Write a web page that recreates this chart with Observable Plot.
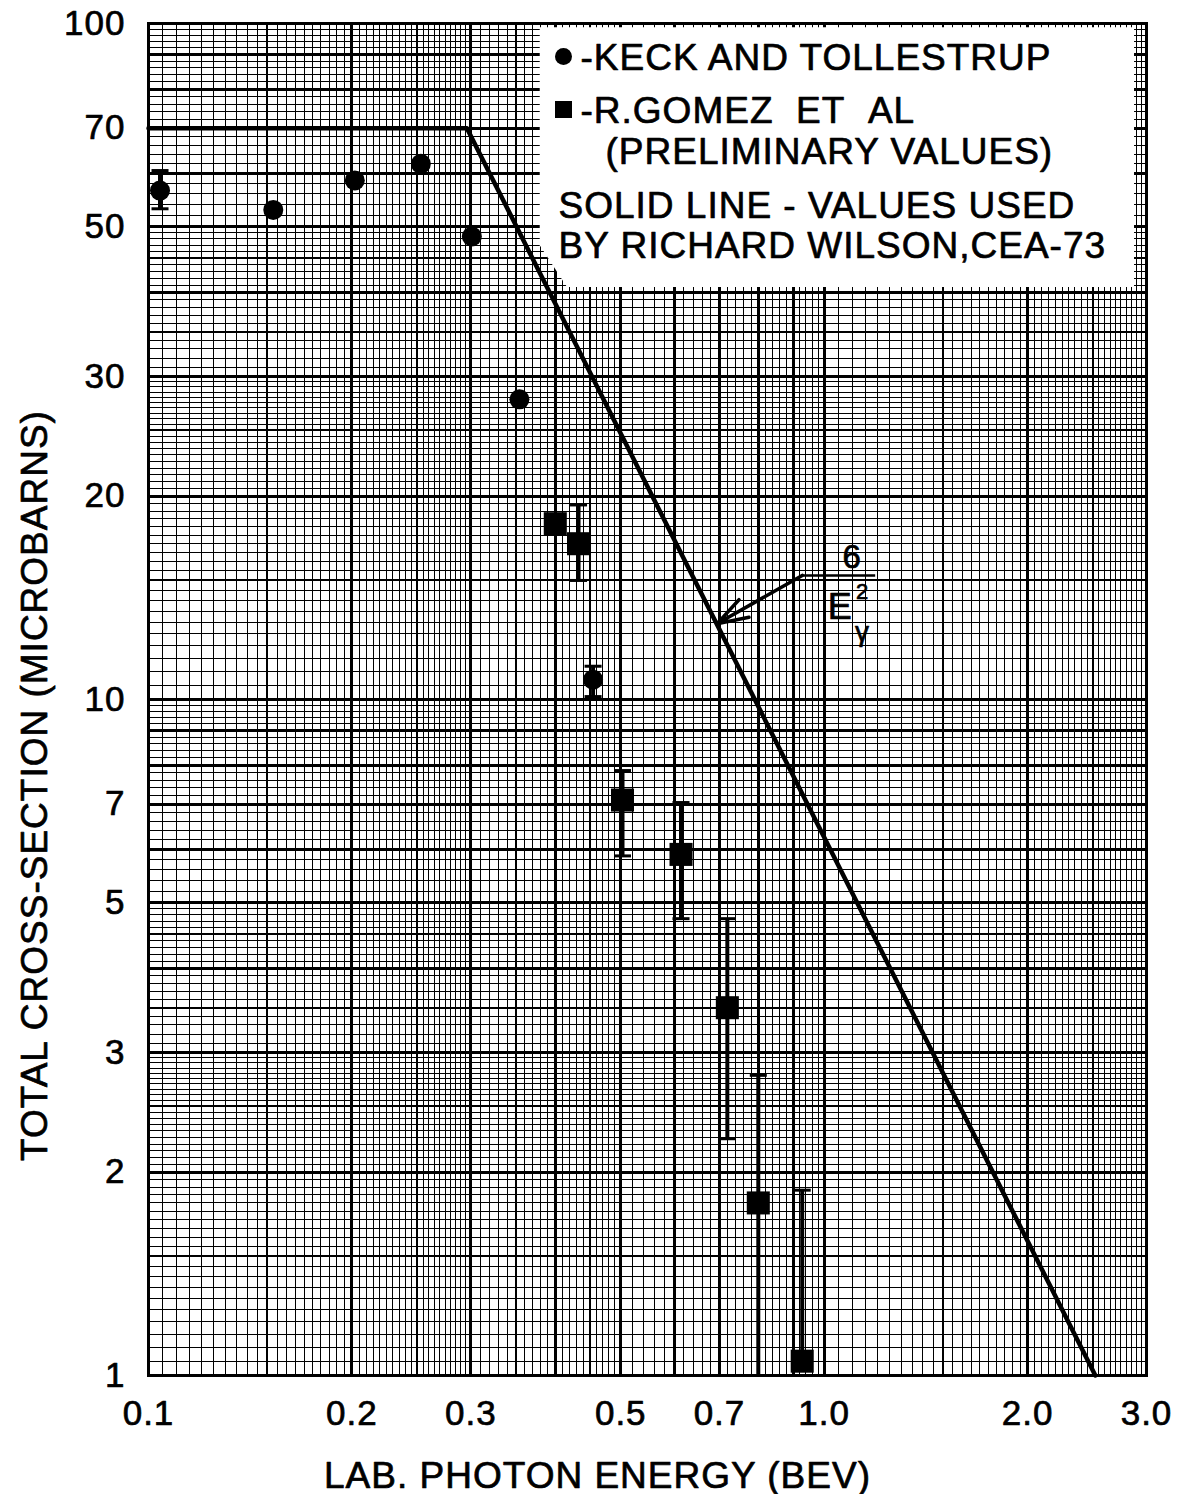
<!DOCTYPE html>
<html><head><meta charset="utf-8">
<script src="https://cdn.jsdelivr.net/npm/d3@7"></script>
<script src="https://cdn.jsdelivr.net/npm/@observablehq/plot@0.6"></script>
<style>
body{margin:0;background:#fff;}
#chart svg{display:block;}
#chart svg text{letter-spacing:1px;}
</style>
</head><body><div id="chart"></div>
<script>
// ---- Keck and Tollestrup (circles) ----
const keckE      = [0.104, 0.153, 0.202, 0.253, 0.301, 0.354, 0.455];
const keckSigma  = [56.6, 53.0, 58.6, 62.0, 48.4, 27.8, 10.7];
const keckLow    = [53.2, null, null, null, null, null, 10.1];
const keckHigh   = [60.6, null, null, null, null, null, 11.2];
// ---- R. Gomez et al (squares, preliminary) ----
const gomezE     = [0.400, 0.433, 0.503, 0.614, 0.719, 0.799, 0.928];
const gomezSigma = [18.2, 17.0, 7.1, 5.9, 3.5, 1.80, 1.05];
const gomezLow   = [null, 15.0, 5.87, 4.74, 2.24, 1.0, 1.05];
const gomezHigh  = [null, 19.4, 7.85, 7.04, 4.74, 2.78, 1.88];
// ---- Solid line (values used by R. Wilson, CEA-73) ----
const lineE      = [0.1, 0.296, 2.52];
const lineSigma  = [70, 70, 1];
// ---- axes ----
const xTicks      = [0.1, 0.2, 0.3, 0.5, 0.7, 1, 2, 3];
const xTickLabels = ["0.1", "0.2", "0.3", "0.5", "0.7", "1.0", "2.0", "3.0"];
const yTicks      = [1, 2, 3, 5, 7, 10, 20, 30, 50, 70, 100];
const yTickLabels = ["1", "2", "3", "5", "7", "10", "20", "30", "50", "70", "100"];
const xTitle = "LAB. PHOTON ENERGY (BEV)";
const yTitle = "TOTAL CROSS-SECTION (MICROBARNS)";
// ---- legend / annotation ----
const legendLines = [
  "-KECK AND TOLLESTRUP",
  "-R.GOMEZ\u00a0\u00a0ET\u00a0\u00a0AL",
  "(PRELIMINARY VALUES)",
  "SOLID LINE - VALUES USED",
  "BY RICHARD WILSON,CEA-73"
];
// white legend panel (data coords: energy, cross-section)
const boxE      = [0.380, 0.417, 2.88];
const boxBottom = [46.9, 40.7, 40.7];
const boxTop    = 98.6;
// annotation "6 / E_gamma^2" with arrow to the line
const arrowFrom = {E: 0.928, s: 15.26};
const arrowTo   = {E: 0.694, s: 12.94};
const barEnd    = 1.19;

// ---- graph-paper grid (log paper rulings) ----
const paperRulings = [[1, 3, 0.05], [3, 5, 0.1], [5, 10, 0.2]];
function paper(lo, hi) {
  const out = [];
  for (const dec of [0.1, 1, 10]) {
    for (const [a, b, st] of paperRulings) {
      const n = Math.round((b - a) / st);
      for (let i = 0; i < n; i++) {
        const k = +(a + i * st).toFixed(4);
        const v = +(dec * k).toPrecision(6);
        if (v < lo - 1e-9 || v > hi + 1e-9) continue;
        const w = Number.isInteger(k) ? 3 : Number.isInteger(k * 2) ? 2 : 1;
        out.push({v, w});
      }
    }
  }
  out.push({v: hi, w: 3});
  return out;
}
const xGrid = paper(0.1, 3);
const yGrid = paper(1, 100);

const keck = keckE.map((E, i) => ({E, s: keckSigma[i], lo: keckLow[i], hi: keckHigh[i]}));
const gomez = gomezE.map((E, i) => ({E, s: gomezSigma[i], lo: gomezLow[i], hi: gomezHigh[i]}));
const errs = [...keck, ...gomez].filter(d => d.lo != null);
const caps = errs.flatMap(d => [{E: d.E, s: d.lo}, {E: d.E, s: d.hi}]);
const solid = lineE.map((E, i) => ({E, s: lineSigma[i]}));
const box = boxE.map((E, i) => ({E, b: boxBottom[i]}));
const xLab = new Map(xTicks.map((t, i) => [t, xTickLabels[i]]));
const yLab = new Map(yTicks.map((t, i) => [t, yTickLabels[i]]));

const capSymbol = {draw(ctx, size) { const w = Math.sqrt(size) / 2; ctx.moveTo(-w, 0); ctx.lineTo(w, 0); }};
const FONT = "Liberation Sans, Arial, sans-serif";
const ink = {fill: "#000", stroke: "#000", strokeWidth: 0.7};

const chart = Plot.plot({
  width: 1194, height: 1494,
  marginLeft: 148, marginRight: 48, marginTop: 23, marginBottom: 119,
  style: {fontFamily: FONT, background: "#fff", color: "#000"},
  x: {type: "log", domain: [0.1, 3], axis: null},
  y: {type: "log", domain: [1, 100], axis: null},
  marks: [
    // graph paper
    Plot.ruleX(xGrid.filter(d => d.w === 1), {x: "v", stroke: "#000", strokeWidth: 1, shapeRendering: "crispEdges"}),
    Plot.ruleY(yGrid.filter(d => d.w === 1), {y: "v", stroke: "#000", strokeWidth: 1, shapeRendering: "crispEdges"}),
    Plot.ruleX(xGrid.filter(d => d.w > 1), {x: "v", stroke: "#000", strokeWidth: d => d.w, shapeRendering: "crispEdges"}),
    Plot.ruleY(yGrid.filter(d => d.w > 1), {y: "v", stroke: "#000", strokeWidth: d => d.w, shapeRendering: "crispEdges"}),
    // legend panel
    Plot.areaY(box, {x: "E", y1: "b", y2: boxTop, fill: "#fff", curve: "linear"}),
    Plot.frame({stroke: "#000", strokeWidth: 3}),
    // tick labels
    Plot.text(xTicks, {x: d => d, text: d => xLab.get(d), frameAnchor: "bottom", dy: 25, lineAnchor: "top", fontSize: 35, ...ink}),
    Plot.text(yTicks, {y: d => d, text: d => yLab.get(d), frameAnchor: "left", dx: -23, textAnchor: "end", lineAnchor: "middle", fontSize: 35, ...ink}),
    // axis titles
    Plot.text([xTitle], {frameAnchor: "bottom", dx: -50, dy: 112, lineAnchor: "bottom", fontSize: 37, ...ink}),
    Plot.text([yTitle], {frameAnchor: "left", rotate: -90, dx: -113, dy: 86, lineAnchor: "middle", textAnchor: "middle", fontSize: 37, ...ink}),
    // solid line
    Plot.line(solid, {x: "E", y: "s", stroke: "#000", strokeWidth: 4.5}),
    // error bars
    Plot.ruleX(errs, {x: "E", y1: "lo", y2: "hi", stroke: "#000", strokeWidth: 4}),
    Plot.dot(caps, {x: "E", y: "s", symbol: capSymbol, r: 9.6, stroke: "#000", strokeWidth: 3, fill: "none"}),
    // data points
    Plot.dot(keck, {x: "E", y: "s", r: 10, fill: "#000", stroke: "none"}),
    Plot.dot(gomez, {x: "E", y: "s", r: 13, symbol: "square", fill: "#000", stroke: "none"}),
    // annotation 6/E^2
    Plot.link([arrowFrom], {x1: "E", y1: "s", x2: barEnd, y2: "s", stroke: "#000", strokeWidth: 2.5}),
    Plot.arrow([arrowFrom], {x1: "E", y1: "s", x2: () => arrowTo.E, y2: () => arrowTo.s, stroke: "#000", strokeWidth: 3.5, headLength: 16, headAngle: 36, inset: 0}),
    Plot.text(["6"], {x: () => 1.10, y: () => 16.3, fontSize: 33, lineAnchor: "bottom", dy: 12, ...ink}),
    Plot.text(["E"], {x: () => 1.056, y: () => 13.7, fontSize: 36, ...ink}),
    Plot.text(["2"], {x: () => 1.14, y: () => 14.4, fontSize: 22, ...ink}),
    Plot.text(["γ"], {x: () => 1.14, y: () => 12.6, fontSize: 28, ...ink}),
    // legend
    Plot.dot([0], {frameAnchor: "top-left", dx: 415, dy: 33, r: 8.5, fill: "#000", stroke: "none"}),
    Plot.dot([0], {frameAnchor: "top-left", dx: 415, dy: 86, r: 9.6, symbol: "square", fill: "#000", stroke: "none"}),
    Plot.text([legendLines[0]], {frameAnchor: "top-left", dx: 432, dy: 46, textAnchor: "start", lineAnchor: "bottom", fontSize: 37, ...ink}),
    Plot.text([legendLines[1]], {frameAnchor: "top-left", dx: 432, dy: 99, textAnchor: "start", lineAnchor: "bottom", fontSize: 37, ...ink}),
    Plot.text([legendLines[2]], {frameAnchor: "top-left", dx: 457, dy: 140, textAnchor: "start", lineAnchor: "bottom", fontSize: 37, ...ink}),
    Plot.text([legendLines[3]], {frameAnchor: "top-left", dx: 410, dy: 194, textAnchor: "start", lineAnchor: "bottom", fontSize: 37, ...ink}),
    Plot.text([legendLines[4]], {frameAnchor: "top-left", dx: 410, dy: 234, textAnchor: "start", lineAnchor: "bottom", fontSize: 37, ...ink})
  ]
});
document.getElementById("chart").append(chart);
</script>
</body></html>
